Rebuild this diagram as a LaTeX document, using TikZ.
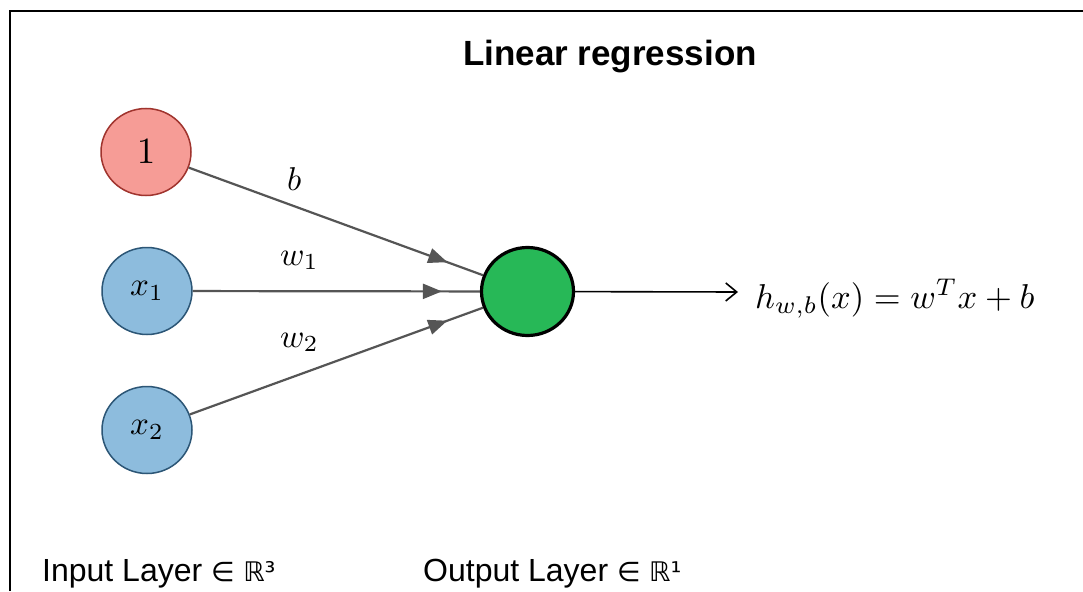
\documentclass[tikz,border=0pt]{standalone}
\usepackage{graphicx}
\usepackage{amsmath}
\usepackage{fontspec}
\setmainfont{Liberation Sans}
\newfontfamily\titlefont{Liberation Sans}
\newfontfamily\symfont{DejaVu Sans}
\usetikzlibrary{shapes.geometric,arrows.meta,decorations.markings}
\definecolor{redfill}{RGB}{246,156,150}
\definecolor{redline}{RGB}{160,52,46}
\definecolor{bluefill}{RGB}{141,188,221}
\definecolor{blueline}{RGB}{44,86,118}
\definecolor{greenfill}{RGB}{39,184,87}
\definecolor{edgegray}{RGB}{85,85,85}
\newcommand{\lrgmath}[1]{\scalebox{3.3}{$#1$}}
\begin{document}
\begin{tikzpicture}[x=1pt,y=-1pt,
  neuron/.style={ellipse, inner sep=0pt, minimum width=90pt, minimum height=87pt, line width=1.5pt},
  inred/.style={neuron, draw=redline, fill=redfill},
  inblue/.style={neuron, draw=blueline, fill=bluefill},
  outnode/.style={ellipse, inner sep=0pt, minimum width=92pt, minimum height=88pt, line width=3.2pt, draw=black, fill=greenfill},
  edge/.style={draw=edgegray, line width=2.2pt, postaction={decorate},
     decoration={markings, mark=at position -38pt with {\arrow{Triangle[length=19pt,width=15pt]}}}},
  wlabel/.style={anchor=base west, inner sep=0pt},
  bottomlabel/.style={anchor=base west, inner sep=0pt, font=\fontsize{32}{36}\selectfont},
]
\useasboundingbox (0,0) rectangle (1083,591);
\fill[white] (0,0) rectangle (1083,591);
% frame
\coordinate (fbl) at (9.5,591);
\coordinate (ftl) at (9.5,11.5);
\coordinate (ftr) at (1083,11.5);
\draw[line width=2pt] (fbl) -- (ftl) -- (ftr);

\node[anchor=base, inner sep=0pt, font=\titlefont\bfseries\fontsize{35}{40}\selectfont] (title) at (610,66) {Linear regression};

\node[inred] (n1) at (146,152) {\scalebox{3.7}{$1$}};
\node[inblue] (x1) at (147,291) {\lrgmath{x_1}};
\node[inblue] (x2) at (147,430) {\lrgmath{x_2}};
\node[outnode] (out) at (527.5,291.5) {};

\draw[edge] (n1) -- (out);
\draw[edge] (x1) -- (out);
\draw[edge] (x2) -- (out);

\node[wlabel] (lb) at (287,190) {\lrgmath{b}};
\node[wlabel] (lw1) at (280,265) {\lrgmath{w_1}};
\node[wlabel] (lw2) at (280,347) {\lrgmath{w_2}};

\coordinate (tip) at (738,292);
\draw[line width=1.6pt, -{Straight Barb[length=11pt,width=18pt]}] (out) -- (tip);
\node[anchor=base west, inner sep=0pt] (formula) at (755,308) {\scalebox{3.45}{$h_{w,b}(x) = w^T x + b$}};

\node[bottomlabel] (inl) at (42,581) {Input Layer {\symfont\fontsize{27}{30}\selectfont ∈ ℝ³}};
\node[bottomlabel] (outl) at (423,581) {Output Layer {\symfont\fontsize{27}{30}\selectfont ∈ ℝ¹}};
\end{tikzpicture}
\end{document}
